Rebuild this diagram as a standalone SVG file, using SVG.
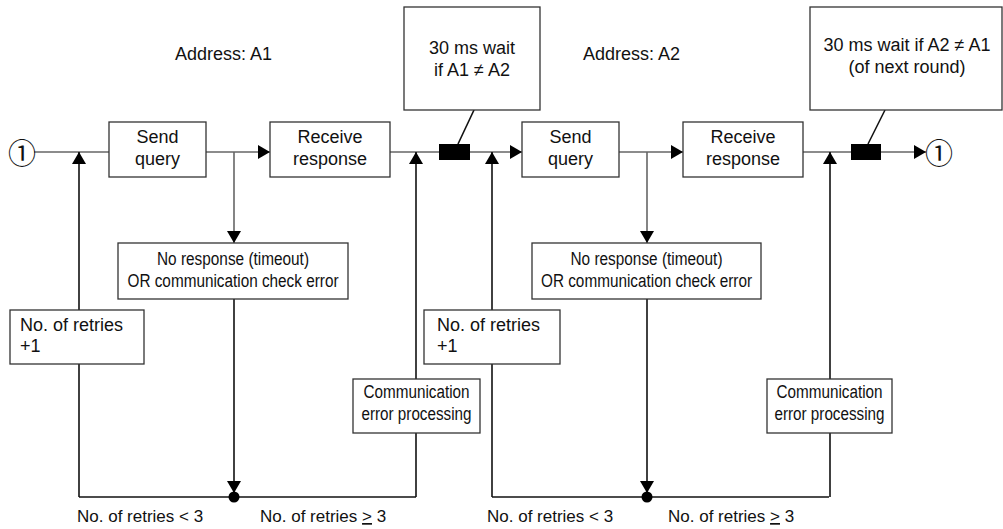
<svg xmlns="http://www.w3.org/2000/svg" width="1003" height="529" viewBox="0 0 1003 529">
<style>
  .box{fill:#fff;stroke:#333;stroke-width:1.3}
  .t{font-family:"Liberation Sans",Arial,sans-serif;font-size:18px;fill:#111}
  .c{text-anchor:middle}
  .n{font-family:"Liberation Sans Narrow","Liberation Sans",Arial,sans-serif;font-size:18px;fill:#111;text-anchor:middle}
  .h{fill:none;stroke:#666;stroke-width:1.6}
  .v{fill:none;stroke:#111;stroke-width:1.6}
  .circ{font-family:"Noto Sans CJK JP","DejaVu Sans",sans-serif;font-size:28px;fill:#111;text-anchor:middle;dominant-baseline:central}
</style>
<defs>
  <marker id="ah" viewBox="0 0 12 14" markerWidth="12" markerHeight="14" refX="12" refY="7" orient="auto" markerUnits="userSpaceOnUse">
    <path d="M0,0 L12,7 L0,14 z" fill="#000"/>
  </marker>
</defs>
<rect width="1003" height="529" fill="#fff"/>
<g id="connectors">
  <path class="h" d="M34,152 H109"/>
  <path class="h" d="M206,152 H270" marker-end="url(#ah)"/>
  <path class="h" d="M390,152 H522" marker-end="url(#ah)"/>
  <path class="h" d="M619,152 H683" marker-end="url(#ah)"/>
  <path class="h" d="M803,152 H926" marker-end="url(#ah)"/>
  <path class="h" d="M234,152 V243" marker-end="url(#ah)"/>
  <path class="h" d="M647,152 V243" marker-end="url(#ah)"/>
  <path class="v" d="M234,299 V493" marker-end="url(#ah)"/>
  <path class="v" d="M647,299 V493" marker-end="url(#ah)"/>
  <path class="v" d="M79,497 H416"/>
  <path class="v" d="M492,497 H829"/>
  <path class="v" d="M79,497 V152" marker-end="url(#ah)"/>
  <path class="v" d="M416,497 V152" marker-end="url(#ah)"/>
  <path class="v" d="M492,497 V152" marker-end="url(#ah)"/>
  <path class="v" d="M830,497 V152" marker-end="url(#ah)"/>
  <path class="v" d="M474,110 L458,144"/>
  <path class="v" d="M885,110 L868,144"/>
  <circle cx="234" cy="497" r="5.5" fill="#000"/>
  <circle cx="647" cy="497" r="5.5" fill="#000"/>
  <rect x="439" y="144" width="31" height="16" fill="#000"/>
  <rect x="851" y="144" width="30" height="16" fill="#000"/>
</g>
<g id="start">
  <text class="circ" x="22" y="152">①</text>
</g>
<g id="end">
  <text class="circ" x="939" y="152">①</text>
</g>
<g id="addr1"><text class="t" x="175" y="60">Address: A1</text></g>
<g id="addr2"><text class="t" x="583" y="60">Address: A2</text></g>
<g id="send1">
  <rect class="box" x="109" y="122" width="97" height="55"/>
  <text class="t c" x="157.5" y="143">Send</text>
  <text class="t c" x="157.5" y="165">query</text>
</g>
<g id="recv1">
  <rect class="box" x="270" y="122" width="120" height="55"/>
  <text class="t c" x="330" y="143">Receive</text>
  <text class="t c" x="330" y="165">response</text>
</g>
<g id="send2">
  <rect class="box" x="522" y="122" width="97" height="55"/>
  <text class="t c" x="570.5" y="143">Send</text>
  <text class="t c" x="570.5" y="165">query</text>
</g>
<g id="recv2">
  <rect class="box" x="683" y="122" width="120" height="55"/>
  <text class="t c" x="743" y="143">Receive</text>
  <text class="t c" x="743" y="165">response</text>
</g>
<g id="wait1">
  <rect class="box" x="404" y="7" width="136" height="103"/>
  <text class="t c" x="472" y="54">30 ms wait</text>
  <text class="t c" x="472" y="76">if A1 ≠ A2</text>
</g>
<g id="wait2">
  <rect class="box" x="810" y="7" width="192" height="103"/>
  <text class="t c" x="907" y="51">30 ms wait if A2 ≠ A1</text>
  <text class="t c" x="907" y="73">(of next round)</text>
</g>
<g id="noresp1">
  <rect class="box" x="118" y="243" width="230" height="56"/>
  <text class="n" x="233" y="265" textLength="152" lengthAdjust="spacingAndGlyphs">No response (timeout)</text>
  <text class="n" x="233" y="287" textLength="211" lengthAdjust="spacingAndGlyphs">OR communication check error</text>
</g>
<g id="noresp2">
  <rect class="box" x="532" y="243" width="229" height="56"/>
  <text class="n" x="646.5" y="265" textLength="152" lengthAdjust="spacingAndGlyphs">No response (timeout)</text>
  <text class="n" x="646.5" y="287" textLength="211" lengthAdjust="spacingAndGlyphs">OR communication check error</text>
</g>
<g id="retry1">
  <rect class="box" x="10" y="310" width="134" height="54"/>
  <text class="t" x="20" y="331">No. of retries</text>
  <text class="t" x="20" y="352">+1</text>
</g>
<g id="retry2">
  <rect class="box" x="424" y="310" width="136" height="54"/>
  <text class="t" x="437" y="331">No. of retries</text>
  <text class="t" x="437" y="352">+1</text>
</g>
<g id="comm1">
  <rect class="box" x="353" y="379" width="127" height="54"/>
  <text class="n" x="416.5" y="398" textLength="106" lengthAdjust="spacingAndGlyphs">Communication</text>
  <text class="n" x="416.5" y="420" textLength="110" lengthAdjust="spacingAndGlyphs">error processing</text>
</g>
<g id="comm2">
  <rect class="box" x="767" y="379" width="125" height="54"/>
  <text class="n" x="829.5" y="398" textLength="106" lengthAdjust="spacingAndGlyphs">Communication</text>
  <text class="n" x="829.5" y="420" textLength="110" lengthAdjust="spacingAndGlyphs">error processing</text>
</g>
<g id="labels">
  <text class="t" x="77" y="522" style="font-size:17px">No. of retries &lt; 3</text>
  <text class="t" x="260" y="522" style="font-size:17px">No. of retries <tspan text-decoration="underline">&gt;</tspan> 3</text>
  <text class="t" x="487" y="522" style="font-size:17px">No. of retries &lt; 3</text>
  <text class="t" x="668" y="522" style="font-size:17px">No. of retries <tspan text-decoration="underline">&gt;</tspan> 3</text>
</g>
</svg>
